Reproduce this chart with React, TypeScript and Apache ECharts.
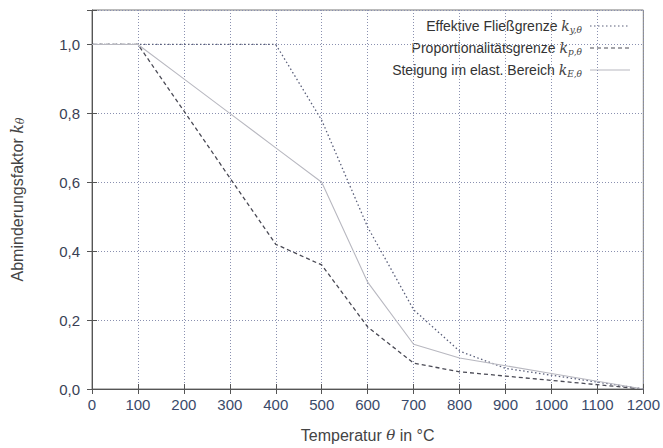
import React, { useEffect, useRef } from "react";
import * as echarts from "echarts";

const temperatures = [0, 100, 200, 300, 400, 500, 600, 700, 800, 900, 1000, 1100, 1200];
const kY = [1.0, 1.0, 1.0, 1.0, 1.0, 0.78, 0.47, 0.23, 0.11, 0.06, 0.04, 0.02, 0.0];
const kP = [1.0, 1.0, 0.807, 0.613, 0.42, 0.36, 0.18, 0.075, 0.05, 0.0375, 0.025, 0.0125, 0.0];
const kE = [1.0, 1.0, 0.9, 0.8, 0.7, 0.6, 0.31, 0.13, 0.09, 0.0675, 0.045, 0.0225, 0.0];
const seriesNames = ["Effektive Fließgrenze", "Proportionalitätsgrenze", "Steigung im elast. Bereich"];
const seriesSubs = ["y,θ", "p,θ", "E,θ"];

const FONT = "Liberation Sans, Arial, sans-serif";
const COLORS = ["#5a5f7a", "#4a4a55", "#b8b8c0"];
const DASHES: any[] = [[1.5, 2.5], [4, 3], "solid"];

export default function App() {
  const ref = useRef<HTMLDivElement>(null);
  useEffect(() => {
    if (!ref.current) return;
    const chart = echarts.init(ref.current, undefined, { renderer: "svg" });
    const toPairs = (arr: number[]) => temperatures.map((t, i) => [t, arr[i]]);
    const gridLine = { show: true, lineStyle: { color: "#8a90b0", type: [1, 2] as any, width: 1 } };
    const mathRich = {
      k: { fontFamily: "DejaVu Serif, serif", fontStyle: "italic", fontSize: 14, fill: "#444", color: "#444" },
      s: { fontFamily: "DejaVu Serif, serif", fontStyle: "italic", fontSize: 9, fill: "#444", color: "#444", padding: [7, 0, 0, 0] },
    };
    const legendRowsY = [26, 48, 70];
    const legendGraphic: any[] = [];
    seriesNames.forEach((n, i) => {
      legendGraphic.push({
        type: "text",
        x: 582,
        y: legendRowsY[i],
        style: {
          text: `${n} {k|k}{s|${seriesSubs[i]}}`,
          font: `14px ${FONT}`,
          fill: "#333",
          align: "right",
          verticalAlign: "middle",
          rich: mathRich,
        },
      });
      legendGraphic.push({
        type: "line",
        shape: { x1: 590, y1: legendRowsY[i], x2: 630, y2: legendRowsY[i] },
        style: { stroke: COLORS[i], lineWidth: 1.1, lineDash: DASHES[i] === "solid" ? null : DASHES[i] },
      });
    });
    chart.setOption({
      animation: false,
      backgroundColor: "#ffffff",
      textStyle: { fontFamily: FONT },
      grid: { left: 92, right: 18, top: 10, bottom: 55, show: true, borderColor: "#777", borderWidth: 1 },
      graphic: legendGraphic,
      xAxis: [
        {
          type: "value",
          min: 0,
          max: 1200,
          interval: 100,
          name: "Temperatur {t|θ} in °C",
          nameLocation: "middle",
          nameGap: 38,
          nameTextStyle: {
            fontFamily: FONT,
            fontSize: 16,
            color: "#444",
            rich: { t: { fontFamily: "DejaVu Serif, serif", fontStyle: "italic", fontSize: 15, color: "#444" } },
          },
          axisLine: { show: true, lineStyle: { color: "#555" } },
          axisTick: { show: true, inside: true, length: 5, lineStyle: { color: "#555" } },
          axisLabel: { fontFamily: FONT, fontSize: 15, color: "#3a4a6a", margin: 8, formatter: (v: number) => String(v) },
          splitLine: gridLine,
        },
        {
          type: "value",
          position: "top",
          min: 0,
          max: 1200,
          interval: 100,
          axisLine: { show: false },
          axisTick: { show: true, inside: true, length: 5, lineStyle: { color: "#555" } },
          axisLabel: { show: false },
          splitLine: { show: false },
        },
      ],
      yAxis: [
        {
          type: "value",
          min: 0,
          max: 1.1,
          interval: 0.2,
          name: "Abminderungsfaktor {k|k}{s|θ}",
          nameLocation: "middle",
          nameGap: 66,
          nameTextStyle: {
            fontFamily: FONT,
            fontSize: 16,
            color: "#444",
            rich: {
              k: { fontFamily: "DejaVu Serif, serif", fontStyle: "italic", fontSize: 16, color: "#444" },
              s: { fontFamily: "DejaVu Serif, serif", fontStyle: "italic", fontSize: 11, color: "#444", padding: [7, 0, 0, 0] },
            },
          },
          axisLine: { show: true, lineStyle: { color: "#555" } },
          axisTick: { show: true, inside: true, length: 5, lineStyle: { color: "#555" } },
          axisLabel: {
            fontFamily: FONT,
            fontSize: 15,
            color: "#3a3f55",
            margin: 12,
            formatter: (v: number) => (v > 1.05 ? "" : v.toFixed(1).replace(".", ",")),
          },
          splitLine: gridLine,
        },
        {
          type: "value",
          position: "right",
          min: 0,
          max: 1.1,
          interval: 0.2,
          axisLine: { show: false },
          axisTick: { show: true, inside: true, length: 5, lineStyle: { color: "#555" } },
          axisLabel: { show: false },
          splitLine: { show: false },
        },
      ],
      series: [
        {
          name: seriesNames[0],
          type: "line",
          data: toPairs(kY),
          symbol: "none",
          lineStyle: { color: COLORS[0], width: 1.3, type: DASHES[0] },
        },
        {
          name: seriesNames[1],
          type: "line",
          data: toPairs(kP),
          symbol: "none",
          lineStyle: { color: COLORS[1], width: 1.3, type: DASHES[1] },
        },
        {
          name: seriesNames[2],
          type: "line",
          data: toPairs(kE),
          symbol: "none",
          lineStyle: { color: COLORS[2], width: 1.1, type: "solid" },
        },
      ],
    });
    return () => chart.dispose();
  }, []);
  return <div ref={ref} style={{ width: 663, height: 448, position: "absolute", left: 0, top: 0 }} />;
}
